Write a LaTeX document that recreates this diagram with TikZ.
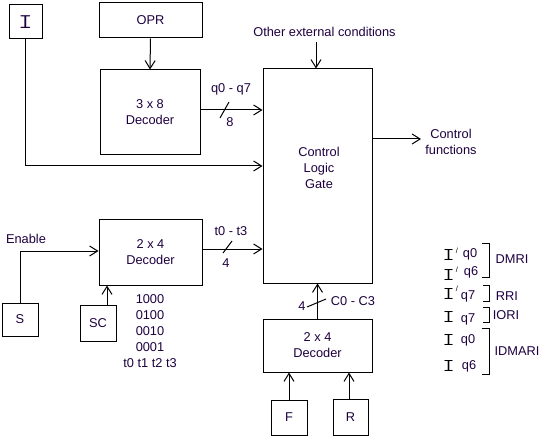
\documentclass[tikz,border=0pt]{standalone}
\usepackage{fontspec}
\setmainfont{Liberation Sans}
\usetikzlibrary{arrows.meta}
\definecolor{txtc}{RGB}{30,0,64}
\newcommand{\bigI}[1]{{\ttfamily\fontsize{#1}{#1}\selectfont\scalebox{1.35}[1]{I}}}
\begin{document}
\begin{tikzpicture}[x=1pt,y=-1pt,line width=1pt,
  box/.style={draw, rectangle, inner sep=0pt, text=txtc, align=center, font=\fontsize{12.8}{16}\selectfont},
  lbl/.style={text=txtc, inner sep=0pt, align=center, font=\fontsize{12.8}{16}\selectfont},
  arr/.style={-{Straight Barb[length=8pt,width=10pt,line width=1pt]}},
  igl/.style={inner sep=0pt},
  prm/.style={inner sep=0pt, font=\fontsize{7.5}{7.5}\selectfont},
]
\useasboundingbox[fill=white] (0,0) rectangle (540,438);

% boxes
\node[box, minimum width=33pt, minimum height=34pt] (ib) at (25.5,22) {\bigI{21}};
\node[box, minimum width=103pt, minimum height=35pt] (opr) at (150.5,20.5) {OPR};
\node[box, minimum width=100pt, minimum height=85pt] (dec38) at (150,112.5) {3 x 8\\Decoder};
\node[box, minimum width=109pt, minimum height=214pt] (clg) at (317.5,176) {};
\node[lbl] (clgt) at (319,168) {Control\\Logic\\Gate};
\node[box, minimum width=103pt, minimum height=65pt] (deca) at (150.5,252.5) {2 x 4\\Decoder};
\node[box, minimum width=36pt, minimum height=33pt] (s) at (20,319.5) {S};
\node[box, minimum width=36pt, minimum height=36pt] (sc) at (98,323) {SC};
\node[box, minimum width=109pt, minimum height=53pt] (decb) at (317.5,345.5) {2 x 4\\Decoder};
\node[box, minimum width=36pt, minimum height=35pt] (f) at (289,417.5) {F};
\node[box, minimum width=35pt, minimum height=36pt] (r) at (350.5,417) {R};

% labels
\node[lbl] (oec) at (324.5,32) {Other external conditions};
\node[lbl] (cf) at (451,142) {Control\\functions};
\node[lbl] (en) at (26,239) {Enable};
\node[lbl] (qlab) at (231,89) {q0 - q7};
\node[lbl] (qn) at (230,122) {8};
\node[lbl] (tlab) at (231,231) {t0 - t3};
\node[lbl] (tn) at (226,263) {4};
\node[lbl] (clab) at (353,301) {C0 - C3};
\node[lbl] (cn) at (302,306) {4};
\node[lbl] (bin) at (150,331) {1000\\0100\\0010\\0001\\t0 t1 t2 t3};

% connectors
\coordinate (oecend) at (316,42);
\coordinate (cfend) at (421,139);
\draw[arr] (opr.south) -- (dec38.north);
\draw[arr] (dec38.east |- 0,110) -- (clg.west |- 0,110);
\draw[arr] (ib.south) -- (ib.south |- 0,166) -- (clg.west |- 0,166);
\draw[arr] (oecend) -- (oecend |- clg.north);
\draw[arr] (clg.east |- cfend) -- (cfend);
\draw[arr] (s.north) -- (s.north |- 0,251) -- (deca.west |- 0,251);
\draw[arr] ([xshift=9pt]sc.north) -- ([xshift=9pt]sc.north |- deca.south);
\draw[arr] (deca.east |- 0,249) -- (clg.west |- 0,249);
\draw[arr] (decb.north) -- (decb.north |- clg.south);
\draw[arr] (f.north) -- (f.north |- decb.south);
\draw[arr] ([xshift=-1.5pt]r.north) -- ([xshift=-1.5pt]r.north |- decb.south);

% bus slashes
\draw (220,118) -- (229,102);
\draw (223,253) -- (232,241);
\draw (307,307) -- (326,299);

% legend
\node[igl] (i1) at (448.5,255.5) {\bigI{18}};
\node[prm] (p1) at (457,250.5) {/};
\node[lbl, anchor=base] (l1) at (470,257) {q0};
\node[igl] (i2) at (448.5,274.5) {\bigI{18}};
\node[prm] (p2) at (457,269.5) {/};
\node[lbl, anchor=base] (l2) at (471,275) {q6};
\node[igl] (i3) at (448.5,293.5) {\bigI{18}};
\node[prm] (p3) at (457,288.5) {/};
\node[lbl, anchor=base] (l3) at (468,299) {q7};
\node[igl] (i4) at (448.5,317) {\bigI{18}};
\node[lbl, anchor=base] (l4) at (468,322) {q7};
\node[igl] (i5) at (448.5,340) {\bigI{18}};
\node[lbl, anchor=base] (l5) at (468,343) {q0};
\node[igl] (i6) at (448.5,366) {\bigI{18}};
\node[lbl, anchor=base] (l6) at (469,369) {q6};

\draw (482,243) -- (489,243) -- (489,277) -- (482,277);
\draw (483,285) -- (489,285) -- (489,301) -- (483,301);
\draw (483,307) -- (489,307) -- (489,322) -- (483,322);
\draw (482,328) -- (489,328) -- (489,374) -- (482,374);
\node[lbl, anchor=base] (b1) at (512,263) {DMRI};
\node[lbl, anchor=base] (b2) at (507,300) {RRI};
\node[lbl, anchor=base] (b3) at (506,319) {IORI};
\node[lbl, anchor=base] (b4) at (517,355) {IDMARI};
\end{tikzpicture}
\end{document}
